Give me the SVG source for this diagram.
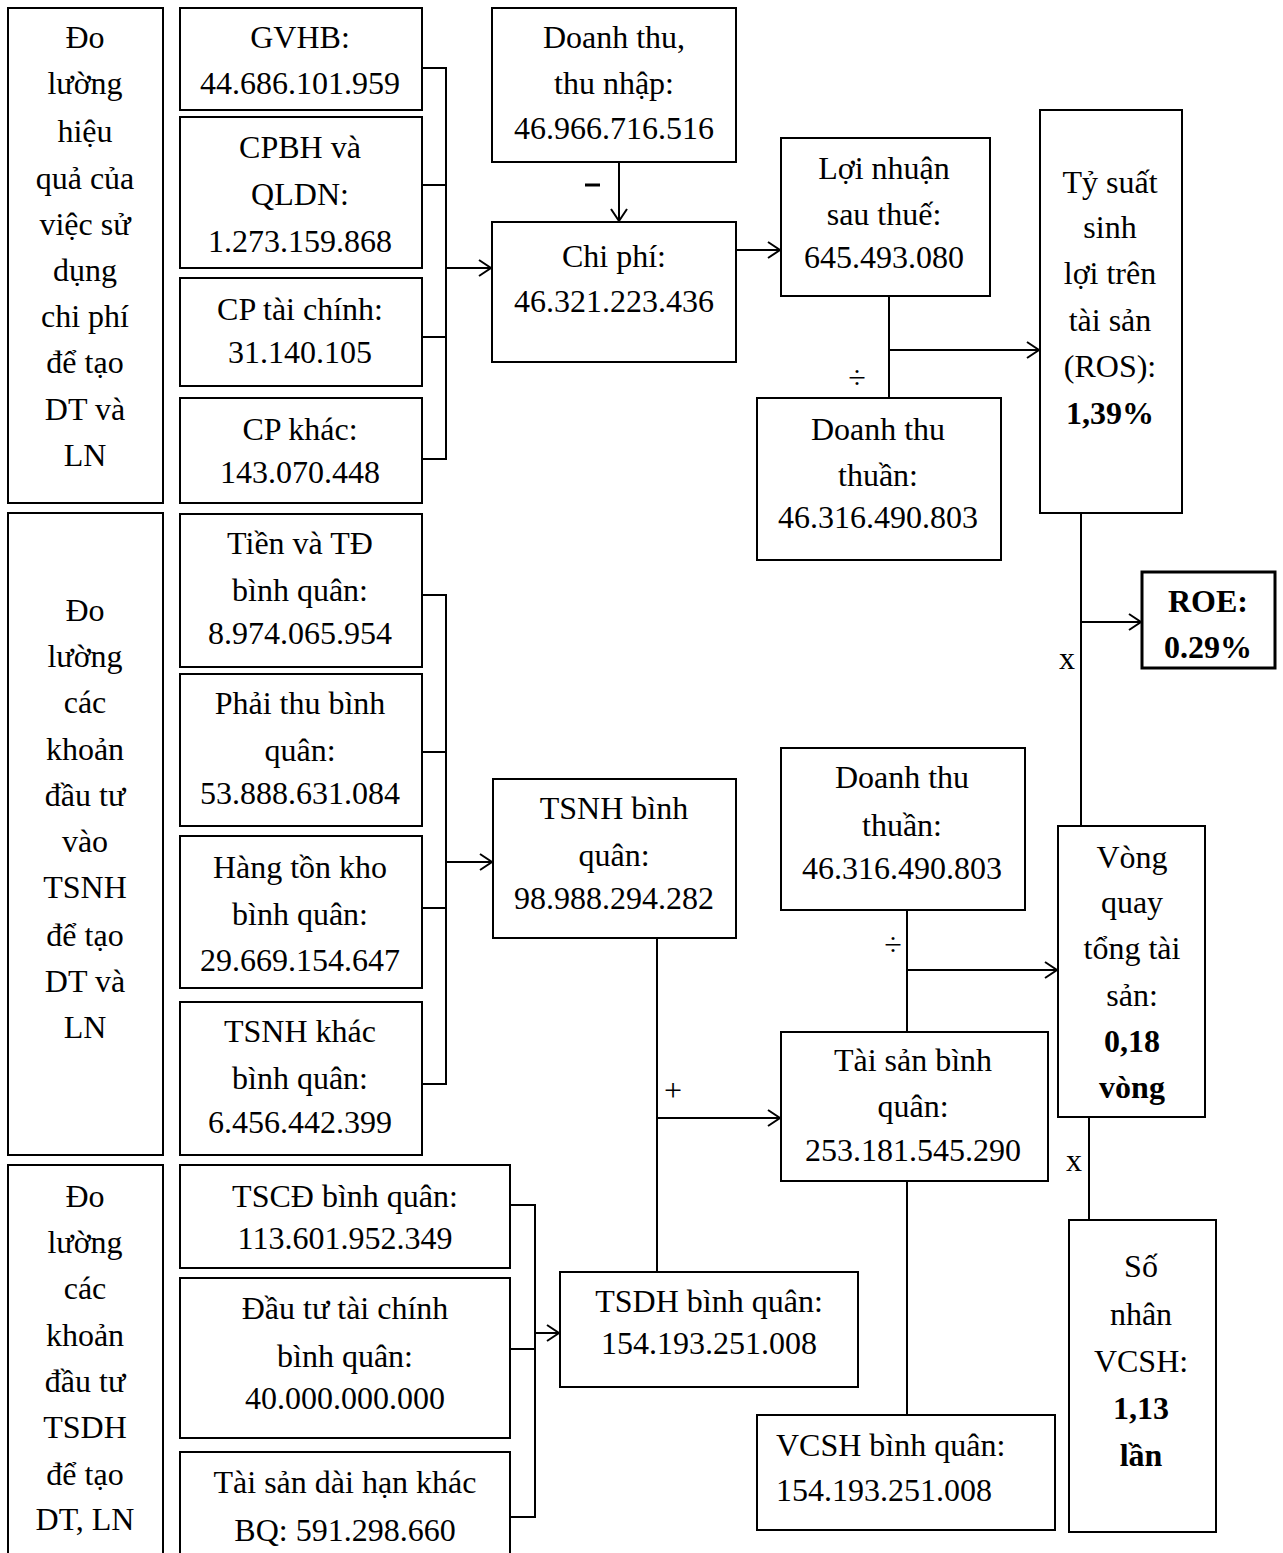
<svg xmlns="http://www.w3.org/2000/svg" width="1283" height="1553" viewBox="0 0 1283 1553">
<style>
.b{fill:#fff;stroke:#000;stroke-width:2}
.bt{fill:#fff;stroke:#000;stroke-width:3}
text{font-family:"Liberation Serif","Times New Roman",serif;font-size:32px;fill:#000;text-anchor:middle}
.bd{font-weight:bold}
.l{text-anchor:start}
.c line,.c polyline{stroke:#000;stroke-width:2;fill:none}
</style>
<defs>
<marker id="ar" viewBox="0 0 16 18" refX="14" refY="9" markerWidth="16" markerHeight="18" markerUnits="userSpaceOnUse" orient="auto">
<path d="M2,1 L14,9 L2,17" fill="none" stroke="#000" stroke-width="2"/>
</marker>
</defs>
<rect width="1283" height="1553" fill="#fff"/>

<g class="c" id="connectors">
<polyline points="422,68 446,68 446,459 422,459"/>
<line x1="422" y1="185" x2="446" y2="185"/>
<line x1="422" y1="337" x2="446" y2="337"/>
<line x1="446" y1="268" x2="491" y2="268" marker-end="url(#ar)"/>
<line x1="619" y1="162" x2="619" y2="221" marker-end="url(#ar)"/>
<line x1="736" y1="250" x2="780" y2="250" marker-end="url(#ar)"/>
<line x1="889" y1="296" x2="889" y2="398"/>
<line x1="889" y1="350" x2="1039" y2="350" marker-end="url(#ar)"/>
<line x1="1081" y1="513" x2="1081" y2="826"/>
<line x1="1081" y1="622" x2="1141" y2="622" marker-end="url(#ar)"/>
<polyline points="422,595 446,595 446,1084 422,1084"/>
<line x1="422" y1="752" x2="446" y2="752"/>
<line x1="422" y1="908" x2="446" y2="908"/>
<line x1="446" y1="862" x2="492" y2="862" marker-end="url(#ar)"/>
<line x1="657" y1="938" x2="657" y2="1272"/>
<line x1="657" y1="1118" x2="780" y2="1118" marker-end="url(#ar)"/>
<line x1="907" y1="910" x2="907" y2="1032"/>
<line x1="907" y1="970" x2="1057" y2="970" marker-end="url(#ar)"/>
<line x1="1089" y1="1117" x2="1089" y2="1220"/>
<line x1="907" y1="1181" x2="907" y2="1415"/>
<polyline points="510,1205 535,1205 535,1517 510,1517"/>
<line x1="510" y1="1349" x2="535" y2="1349"/>
<line x1="535" y1="1333" x2="559" y2="1333" marker-end="url(#ar)"/>
<line x1="585" y1="185" x2="600" y2="185" style="stroke-width:3"/>
</g>
<g id="op-labels">
<text x="857" y="388">÷</text>
<text x="893" y="955">÷</text>
<text x="673" y="1101">+</text>
<text x="1067" y="669">x</text>
<text x="1074" y="1171">x</text>
</g>

<g id="n-sec1">
<rect class="b" x="8" y="8" width="155" height="495"/>
<text x="85" y="48">Đo</text><text x="85" y="94">lường</text><text x="85" y="142">hiệu</text><text x="85" y="189">quả của</text><text x="85" y="235">việc sử</text><text x="85" y="281">dụng</text><text x="85" y="327">chi phí</text><text x="85" y="373">để tạo</text><text x="85" y="420">DT và</text><text x="85" y="466">LN</text>
</g>
<g id="n-gvhb">
<rect class="b" x="180" y="8" width="242" height="102"/>
<text x="300" y="48">GVHB:</text><text x="300" y="94">44.686.101.959</text>
</g>
<g id="n-cpbh">
<rect class="b" x="180" y="117" width="242" height="151"/>
<text x="300" y="158">CPBH và</text><text x="300" y="205">QLDN:</text><text x="300" y="252">1.273.159.868</text>
</g>
<g id="n-cptc">
<rect class="b" x="180" y="278" width="242" height="108"/>
<text x="300" y="320">CP tài chính:</text><text x="300" y="363">31.140.105</text>
</g>
<g id="n-cpk">
<rect class="b" x="180" y="398" width="242" height="105"/>
<text x="300" y="440">CP khác:</text><text x="300" y="483">143.070.448</text>
</g>
<g id="n-dttn">
<rect class="b" x="492" y="8" width="244" height="154"/>
<text x="614" y="48">Doanh thu,</text><text x="614" y="94">thu nhập:</text><text x="614" y="139">46.966.716.516</text>
</g>
<g id="n-cp">
<rect class="b" x="492" y="222" width="244" height="140"/>
<text x="614" y="267">Chi phí:</text><text x="614" y="312">46.321.223.436</text>
</g>
<g id="n-ln">
<rect class="b" x="781" y="138" width="209" height="158"/>
<text x="884" y="179">Lợi nhuận</text><text x="884" y="225">sau thuế:</text><text x="884" y="268">645.493.080</text>
</g>
<g id="n-dtt1">
<rect class="b" x="757" y="398" width="244" height="162"/>
<text x="878" y="440">Doanh thu</text><text x="878" y="486">thuần:</text><text x="878" y="528">46.316.490.803</text>
</g>
<g id="n-ros">
<rect class="b" x="1040" y="110" width="142" height="403"/>
<text x="1110" y="193">Tỷ suất</text><text x="1110" y="238">sinh</text><text x="1110" y="284">lợi trên</text><text x="1110" y="331">tài sản</text><text x="1110" y="377">(ROS):</text><text class="bd" x="1110" y="424">1,39%</text>
</g>
<g id="n-roe">
<rect class="bt" x="1142" y="572" width="133" height="96"/>
<text class="bd" x="1208" y="612">ROE:</text><text class="bd" x="1208" y="658">0.29%</text>
</g>

<g id="n-sec2">
<rect class="b" x="8" y="513" width="155" height="642"/>
<text x="85" y="621">Đo</text><text x="85" y="667">lường</text><text x="85" y="713">các</text><text x="85" y="760">khoản</text><text x="85" y="806">đầu tư</text><text x="85" y="852">vào</text><text x="85" y="898">TSNH</text><text x="85" y="946">để tạo</text><text x="85" y="992">DT và</text><text x="85" y="1038">LN</text>
</g>
<g id="n-tien">
<rect class="b" x="180" y="514" width="242" height="153"/>
<text x="300" y="554">Tiền và TĐ</text><text x="300" y="601">bình quân:</text><text x="300" y="644">8.974.065.954</text>
</g>
<g id="n-pt">
<rect class="b" x="180" y="674" width="242" height="152"/>
<text x="300" y="714">Phải thu bình</text><text x="300" y="761">quân:</text><text x="300" y="804">53.888.631.084</text>
</g>
<g id="n-htk">
<rect class="b" x="180" y="836" width="242" height="152"/>
<text x="300" y="878">Hàng tồn kho</text><text x="300" y="925">bình quân:</text><text x="300" y="971">29.669.154.647</text>
</g>
<g id="n-tsnhk">
<rect class="b" x="180" y="1002" width="242" height="153"/>
<text x="300" y="1042">TSNH khác</text><text x="300" y="1089">bình quân:</text><text x="300" y="1133">6.456.442.399</text>
</g>
<g id="n-tsnh">
<rect class="b" x="493" y="779" width="243" height="159"/>
<text x="614" y="819">TSNH bình</text><text x="614" y="866">quân:</text><text x="614" y="909">98.988.294.282</text>
</g>
<g id="n-dtt2">
<rect class="b" x="781" y="748" width="244" height="162"/>
<text x="902" y="788">Doanh thu</text><text x="902" y="836">thuần:</text><text x="902" y="879">46.316.490.803</text>
</g>
<g id="n-tsbq">
<rect class="b" x="781" y="1032" width="267" height="149"/>
<text x="913" y="1071">Tài sản bình</text><text x="913" y="1117">quân:</text><text x="913" y="1161">253.181.545.290</text>
</g>
<g id="n-vq">
<rect class="b" x="1058" y="826" width="147" height="291"/>
<text x="1132" y="868">Vòng</text><text x="1132" y="913">quay</text><text x="1132" y="959">tổng tài</text><text x="1132" y="1006">sản:</text><text class="bd" x="1132" y="1052">0,18</text><text class="bd" x="1132" y="1098">vòng</text>
</g>

<g id="n-sec3">
<rect class="b" x="8" y="1165" width="155" height="400"/>
<text x="85" y="1207">Đo</text><text x="85" y="1253">lường</text><text x="85" y="1299">các</text><text x="85" y="1346">khoản</text><text x="85" y="1392">đầu tư</text><text x="85" y="1438">TSDH</text><text x="85" y="1485">để tạo</text><text x="85" y="1530">DT, LN</text>
</g>
<g id="n-tscd">
<rect class="b" x="180" y="1165" width="330" height="103"/>
<text x="345" y="1207">TSCĐ bình quân:</text><text x="345" y="1249">113.601.952.349</text>
</g>
<g id="n-dtc">
<rect class="b" x="180" y="1278" width="330" height="160"/>
<text x="345" y="1319">Đầu tư tài chính</text><text x="345" y="1367">bình quân:</text><text x="345" y="1409">40.000.000.000</text>
</g>
<g id="n-tsdhk">
<rect class="b" x="180" y="1452" width="330" height="113"/>
<text x="345" y="1493">Tài sản dài hạn khác</text><text x="345" y="1541">BQ: 591.298.660</text>
</g>
<g id="n-tsdh">
<rect class="b" x="560" y="1272" width="298" height="115"/>
<text x="709" y="1312">TSDH bình quân:</text><text x="709" y="1354">154.193.251.008</text>
</g>
<g id="n-vcsh">
<rect class="b" x="757" y="1415" width="298" height="115"/>
<text class="l" x="776" y="1456">VCSH bình quân:</text><text class="l" x="776" y="1501">154.193.251.008</text>
</g>
<g id="n-snv">
<rect class="b" x="1069" y="1220" width="147" height="312"/>
<text x="1141" y="1277">Số</text><text x="1141" y="1325">nhân</text><text x="1141" y="1372">VCSH:</text><text class="bd" x="1141" y="1419">1,13</text><text class="bd" x="1141" y="1466">lần</text>
</g>
</svg>
